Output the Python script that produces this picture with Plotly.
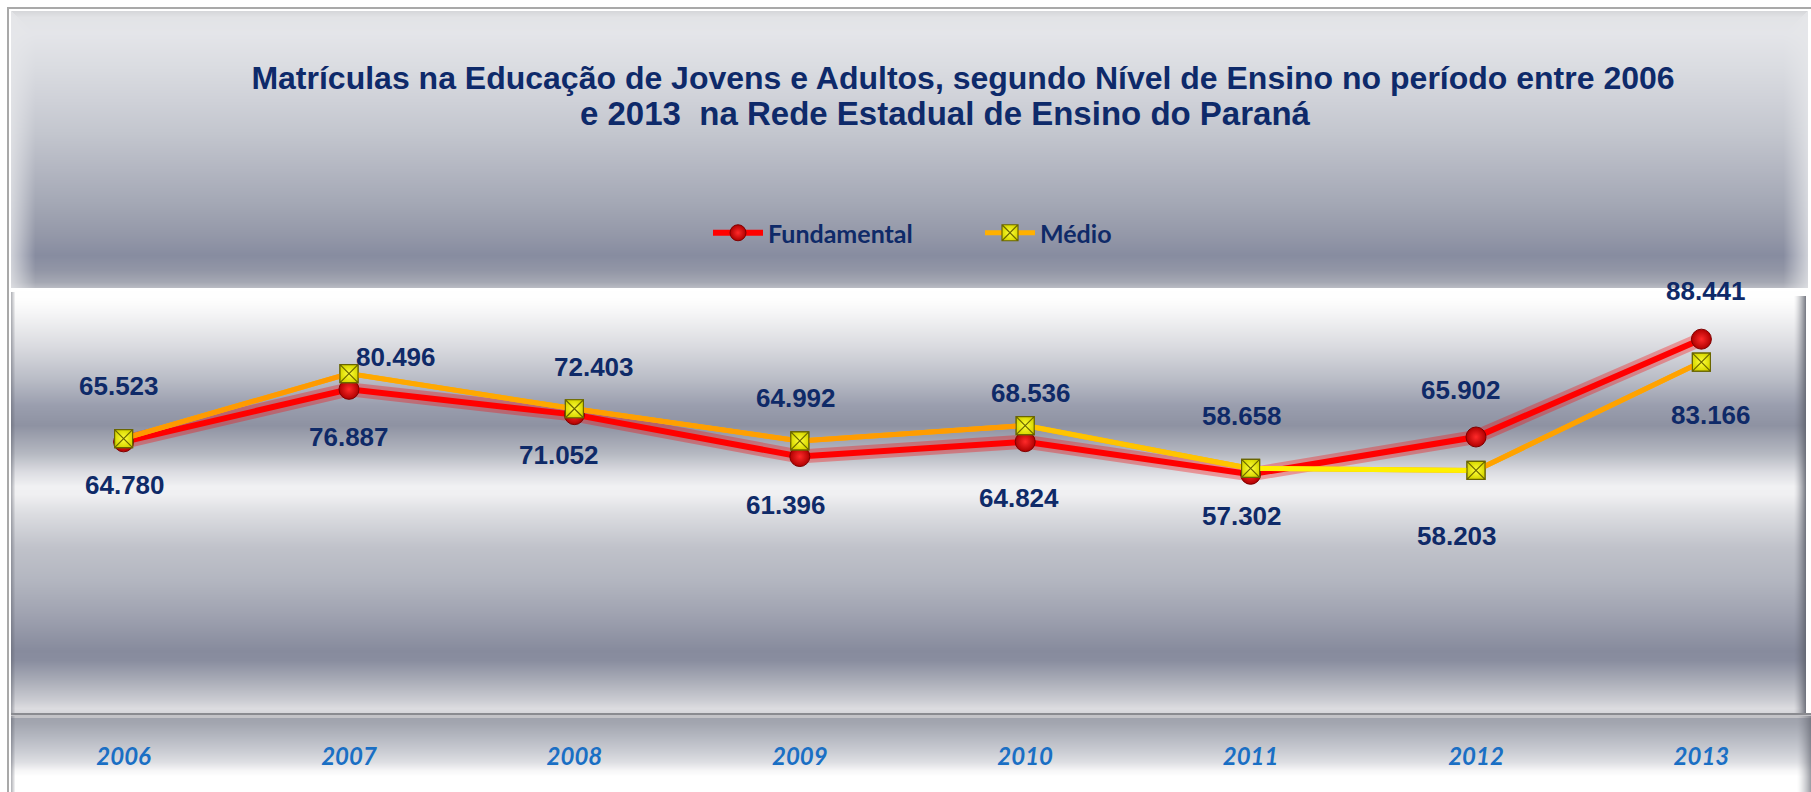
import base64
import struct
import zlib

import numpy as np
import plotly.graph_objects as go

# ---------------- data ----------------
years = ["2006", "2007", "2008", "2009", "2010", "2011", "2012", "2013"]
fundamental = [64780, 76887, 71052, 61396, 64824, 57302, 65902, 88441]
medio = [65523, 80496, 72403, 64992, 68536, 58658, 58203, 83166]

title_line1 = "Matrículas na Educação de Jovens e Adultos, segundo Nível de Ensino no período entre 2006"
title_line2 = "e 2013  na Rede Estadual de Ensino do Paraná"

# label offsets in pixels (style only)
fund_dx = [1, 0, -15, -14, -6, -9, -15, 5]
fund_dy = [43, 48, 40, 48, 56, 42, -47, -48]
med_dx = [-5, 47, 20, -4, 6, -9, -19, 10]
med_dy = [-53, -17, -42, -43, -33, -52, 66, 53]

# colour of each Médio line segment (style only: imitates the gradient line)
med_seg_colors = ["#ff9a00", "#ffa800", "#ff9f00", "#ff9c00", "#ffc400", "#fff000", "#ffa200"]

# ---------------- geometry ----------------
FW, FH = 1811, 792
ML, MR, MT, MB = 12, 8, 289, 69
PW, PH = FW - ML - MR, FH - MT - MB
CAT_W = 225.4
x_lo = -(123.6 - ML) / CAT_W
x_hi = x_lo + PW / CAT_W
xpos = list(range(len(years)))


def fmt(v):
    return f"{v:,}".replace(",", ".")


# ---------------- background picture (gradients) ----------------
def hex2rgb(h):
    h = h.lstrip("#")
    return [int(h[i:i + 2], 16) for i in (0, 2, 4)]


def vgrad(stops, y0, y1):
    ys = np.arange(y0, y1)
    sy = [s[0] for s in stops]
    cols = np.array([hex2rgb(s[1]) for s in stops], dtype=float)
    return np.stack([np.interp(ys, sy, cols[:, k]) for k in range(3)], axis=1)


img = np.full((FH, FW, 3), 255.0)

# top (title) panel
top_stops = [(11, "#d6d7da"), (17, "#e2e3e6"), (33, "#e4e5e9"), (67, "#dadce1"), (100, "#cfd1d8"),
             (133, "#c3c6ce"), (167, "#b4b7c2"), (200, "#a5a9b6"), (233, "#9599a9"), (255, "#878ca0"),
             (270, "#9296a6"), (282, "#a5a8b3"), (287, "#b8bac2")]
tx0, tx1, ty0, ty1 = 11, 1808, 11, 288
img[ty0:ty1, tx0:tx1] = vgrad(top_stops, ty0, ty1)[:, None, :]
light = np.array(hex2rgb("#e6e7ea"), dtype=float)
for i in range(24):
    w = 0.75 * (1 - i / 24)
    img[ty0 + i:ty1, tx0 + i] = img[ty0 + i:ty1, tx0 + i] * (1 - w) + light * w
    img[ty0 + i:ty1, tx1 - 1 - i] = img[ty0 + i:ty1, tx1 - 1 - i] * (1 - w) + light * w

# plot panel
plot_stops = [(288, "#ffffff"), (300, "#fdfdfd"), (313, "#f5f5f6"), (347, "#d9dadf"), (380, "#b8bbc5"),
              (405, "#9a9eae"), (425, "#8e92a2"), (453, "#b5b8c1"), (472, "#dcdde2"), (486, "#f1f1f3"),
              (494, "#f0f0f2"), (513, "#dcdde1"), (547, "#c0c2ca"), (580, "#b3b6c0"), (613, "#a0a3b1"),
              (650, "#878b9d"), (660, "#898d9f"), (680, "#a9acb7"), (700, "#cbccd2"), (708, "#dcdce0"),
              (713, "#d6d6da")]
px0, px1, py0, py1 = 11, 1806, 288, 713
img[py0:py1, px0:px1] = vgrad(plot_stops, py0, py1)[:, None, :]
dark = np.array(hex2rgb("#5e616c"), dtype=float)
for i in range(12):
    w = 0.8 * (1 - i / 12) ** 1.5
    img[py0 + 8:py1, px1 - 1 - i] = img[py0 + 8:py1, px1 - 1 - i] * (1 - w) + dark * w
for i in range(4):
    w = 0.45 * (1 - i / 4)
    img[py0 + 4:py1, px0 + i] = img[py0 + 4:py1, px0 + i] * (1 - w) + dark * w

# separator lines
img[713:715, 11:FW] = hex2rgb("#8a8b90")
img[715:718, 11:FW] = hex2rgb("#c3c3c7")

# bottom (axis) panel
bot_stops = [(718, "#a0a3ad"), (723, "#a3a6b0"), (735, "#b3b6bf"), (750, "#c9cbd2"), (762, "#dedfe3"),
             (770, "#f6f6f7"), (776, "#ffffff"), (792, "#ffffff")]
img[718:FH, 11:FW] = vgrad(bot_stops, 718, FH)[:, None, :]
for i in range(4):
    w = 0.45 * (1 - i / 4)
    img[716:FH, 11 + i] = img[716:FH, 11 + i] * (1 - w) + dark * w
for i in range(14):
    w = 0.6 * (1 - i / 14) ** 1.5
    img[716:FH, FW - 1 - i] = img[716:FH, FW - 1 - i] * (1 - w) + dark * w

# outer frame
img[7:9, 7:FW] = hex2rgb("#a9a9a9")
img[7:FH, 7:9] = hex2rgb("#a9a9a9")
img[9:11, 9:FW] = 255
img[9:FH, 9:11] = 255


def png_uri(arr):
    arr = np.clip(np.round(arr), 0, 255).astype(np.uint8)
    h, w, _ = arr.shape
    raw = b"".join(b"\x00" + arr[i].tobytes() for i in range(h))

    def chunk(t, d):
        c = struct.pack(">I", len(d)) + t + d
        return c + struct.pack(">I", zlib.crc32(t + d) & 0xFFFFFFFF)

    png = (b"\x89PNG\r\n\x1a\n"
           + chunk(b"IHDR", struct.pack(">IIBBBBB", w, h, 8, 2, 0, 0, 0))
           + chunk(b"IDAT", zlib.compress(raw, 9))
           + chunk(b"IEND", b""))
    return "data:image/png;base64," + base64.b64encode(png).decode()


bg_uri = png_uri(img)

# ---------------- figure ----------------
fig = go.Figure()

# glow under the red line
fig.add_trace(go.Scatter(
    x=xpos, y=fundamental, mode="lines",
    line=dict(color="rgba(255,0,0,0.33)", width=14),
    showlegend=False, hoverinfo="skip"))

fig.add_trace(go.Scatter(
    x=xpos, y=fundamental, mode="lines+markers", name="Fundamental",
    line=dict(color="#ff0000", width=6),
    marker=dict(symbol="circle", size=20, color="#b00000",
                gradient=dict(type="radial", color="#ff2a2a"),
                line=dict(color="#800000", width=1))))

med_marker = dict(symbol="square-x", size=18, color="#d8d800",
                  gradient=dict(type="radial", color="#ffff3a"),
                  line=dict(color="#6a6600", width=1.2))

fig.add_trace(go.Scatter(
    x=xpos, y=medio, mode="lines+markers", name="Médio",
    line=dict(color="#ffb000", width=5), marker=med_marker))

# coloured segments of the Médio line (imitating the gradient stroke)
for i, col in enumerate(med_seg_colors):
    fig.add_trace(go.Scatter(
        x=xpos[i:i + 2], y=medio[i:i + 2], mode="lines",
        line=dict(color=col, width=5), showlegend=False, hoverinfo="skip"))

# Médio markers again on top of the segments
fig.add_trace(go.Scatter(
    x=xpos, y=medio, mode="markers", marker=med_marker,
    showlegend=False, hoverinfo="skip"))

label_font = dict(family="Liberation Sans, Arial, sans-serif", size=26, color="#0f2a68", weight="bold")
annotations = []
for i in xpos:
    annotations.append(dict(x=i, y=fundamental[i], xref="x", yref="y", text=fmt(fundamental[i]),
                            showarrow=False, xshift=fund_dx[i], yshift=-fund_dy[i], font=label_font))
    annotations.append(dict(x=i, y=medio[i], xref="x", yref="y", text=fmt(medio[i]),
                            showarrow=False, xshift=med_dx[i], yshift=-med_dy[i], font=label_font))

title_font = dict(family="Liberation Sans, Arial, sans-serif", size=32, color="#0e2a6a", weight="bold")
annotations.append(dict(text=title_line2, xref="paper", yref="paper",
                        x=(945 - ML) / PW, y=(FH - MB - 113) / PH, xanchor="center", yanchor="middle",
                        showarrow=False,
                        font=dict(family="Liberation Sans, Arial, sans-serif", size=33,
                                  color="#0e2a6a", weight="bold")))

fig.update_layout(
    width=FW, height=FH,
    margin=dict(l=ML, r=MR, t=MT, b=MB, pad=0),
    paper_bgcolor="white",
    plot_bgcolor="rgba(0,0,0,0)",
    title=dict(text=title_line1, x=963 / FW, xanchor="center", xref="container",
               y=1 - 78 / FH, yanchor="middle", yref="container", font=title_font),
    showlegend=True,
    legend=dict(orientation="h", x=(708 - ML) / PW, xanchor="left",
                y=(FH - MB - 233) / PH, yanchor="middle",
                bgcolor="rgba(0,0,0,0)", borderwidth=0,
                font=dict(family="Lato, sans-serif", size=25, color="#0f2a68", weight="bold"),
                itemwidth=50, entrywidth=207, entrywidthmode="pixels"),
    xaxis=dict(range=[x_lo, x_hi], tickmode="array", tickvals=xpos, ticktext=years,
               showgrid=False, zeroline=False, showline=False, ticks="", ticklabelstandoff=17,
               tickfont=dict(family="Lato, sans-serif", size=24, color="#1a6fc4",
                             weight="bold", style="italic")),
    yaxis=dict(range=[0, 100000], showticklabels=False, showgrid=False, zeroline=False,
               showline=False, ticks=""),
    annotations=annotations,
    images=[dict(source=bg_uri, xref="paper", yref="paper",
                 x=-ML / PW, y=(FH - MB) / PH, sizex=FW / PW, sizey=FH / PH,
                 xanchor="left", yanchor="top", sizing="stretch", layer="below")],
    hovermode=False,
)

fig.write_html("out.html", config={"displayModeBar": False},
               post_script="document.body.style.margin='0';")
